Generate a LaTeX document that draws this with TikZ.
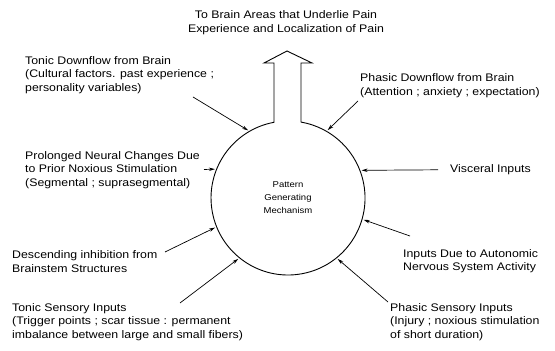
\documentclass[tikz,border=0pt]{standalone}
\usepackage{fontspec}
\setmainfont{Liberation Sans}[FakeStretch=1.12]
\usetikzlibrary{arrows.meta}
\begin{document}
\begin{tikzpicture}[x=1pt,y=1pt,
  lbl/.style={font=\fontsize{11}{13.5}\selectfont, align=left, inner sep=0pt, anchor=west},
  inarrow/.style={draw, line width=0.7pt, -{Stealth[length=6pt,width=3.4pt]}, shorten >=1.5pt},
  outline/.style={draw, line width=0.9pt, line join=miter}]
\useasboundingbox (0,0) rectangle (555,351);
% central mechanism
\node[circle, minimum size=154pt, inner sep=0pt, align=center,
      font=\fontsize{8.5}{13}\selectfont] (c) at (288,153) {Pattern\\Generating\\Mechanism};
% circle with output arrow
\coordinate (sl) at (274,228.7);
\coordinate (sr) at (301,228.9);
\coordinate (hl) at (264,288);
\coordinate (hr) at (312,288);
\coordinate (tip) at (287,300);
\draw[outline] (sr) -- (301,288) -- (hr) -- (tip) -- (hl) -- (274,288) -- (sl)
  arc[start angle=100.5, end angle=440.3, radius=77pt];
% labels
\node[lbl, anchor=center, align=center] (top) at (286,328.5) {To Brain Areas that Underlie Pain\\Experience and Localization of Pain};
\node[lbl] (tdf) at (25,276) {Tonic Downflow from Brain\\(Cultural factors. past experience ;\\personality variables)};
\node[lbl] (pnc) at (25,181) {Prolonged Neural Changes Due\\to Prior Noxious Stimulation\\(Segmental ; suprasegmental)};
\node[lbl] (dib) at (12,89.5) {Descending inhibition from\\Brainstem Structures};
\node[lbl] (tsi) at (12,29) {Tonic Sensory Inputs\\(Trigger points ; scar tissue : permanent\\imbalance between large and small fibers)};
\node[lbl] (pdf) at (360,265.5) {Phasic Downflow from Brain\\(Attention ; anxiety ; expectation)};
\node[lbl] (vis) at (450,181) {Visceral Inputs};
\node[lbl] (ans) at (403,90) {Inputs Due to Autonomic\\Nervous System Activity};
\node[lbl] (psi) at (390,29) {Phasic Sensory Inputs\\(Injury ; noxious stimulation\\of short duration)};
% arrow start points
\coordinate (a1) at (193,254);
\coordinate (a2) at (358,250);
\coordinate (a3) at (438,181.2);
\coordinate (a4) at (410,115);
\coordinate (a5) at (388,49);
\coordinate (a6) at (180,48);
\coordinate (a7) at (165,99);
\coordinate (a8) at (204,181.5);
\draw[inarrow] (a1) -- (c.120);
\draw[inarrow] (a2) -- (c.60);
\draw[inarrow] (a3) -- (c.21.5);
\draw[inarrow] (a4) -- (c.-16);
\draw[inarrow] (a5) -- (c.-51);
\draw[inarrow] (a6) -- (c.231);
\draw[inarrow] (a7) -- (c.202);
\draw[inarrow] (a8) -- (c.158.3);
\end{tikzpicture}
\end{document}
